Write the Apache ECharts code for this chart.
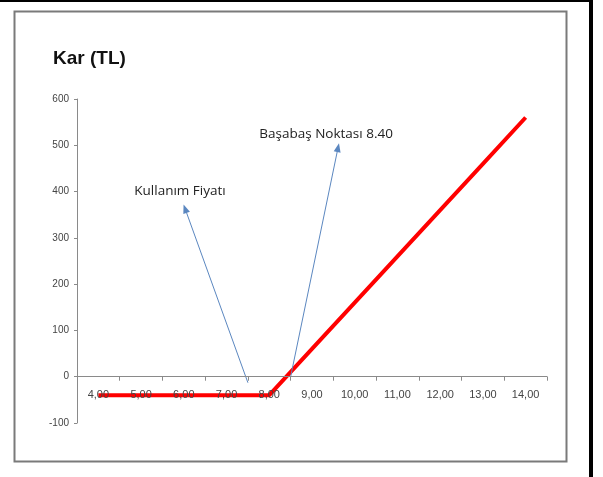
<!DOCTYPE html>
<html>
<head>
<meta charset="utf-8">
<script src="https://cdn.jsdelivr.net/npm/echarts@6/dist/echarts.min.js"></script>
<style>
html,body{margin:0;padding:0;background:#fff;}
#chart{width:603px;height:477px;}
</style>
</head>
<body>
<div id="chart"></div>
<script>
// Data
const priceLabels = ['4,00','5,00','6,00','7,00','8,00','9,00','10,00','11,00','12,00','13,00','14,00'];
const prices = [4,5,6,7,8,9,10,11,12,13,14];
const profit = [-40,-40,-40,-40,-40,60,160,260,360,460,560];
const yTicks = [-100,0,100,200,300,400,500,600];
const titleText = 'Kar (TL)';
// annotation arrows: [x1,y1] -> [x2,y2] in data space (arrowhead at end)
const arrowStrike = [[7.5,-13],[6.03,363]];
const arrowBreakeven = [[8.5,0],[9.61,495]];
const labelStrike = ['Kullanım Fiyatı',5.91,400];
const labelBreakeven = ['Başabaş Noktası 8.40',9.33,523];

const chart = echarts.init(document.getElementById('chart'));
const lineData = prices.map((p,i)=>[p,profit[i]]);
const arrowColor = '#5b87c0';
const axisGray = '#8a8a8a';
const gridTop = 99, gridBottom = 54, chartH = 477;
const plotH = chartH - gridTop - gridBottom;
const yMin = yTicks[0], yMax = yTicks[yTicks.length-1];
// shift category axis up so it sits on value 0
const zeroOffset = -plotH * (0 - yMin) / (yMax - yMin);

chart.setOption({
  animation:false,
  backgroundColor:'#fff',
  title:{text:titleText,left:48,top:44,textStyle:{fontFamily:'Liberation Sans',fontWeight:'bold',fontSize:19,color:'#111'}},
  grid:{left:77,right:56,top:gridTop,bottom:gridBottom,containLabel:false},
  xAxis:[{
    type:'category',data:priceLabels,boundaryGap:true,position:'bottom',offset:zeroOffset,
    axisLine:{onZero:false,lineStyle:{color:axisGray,width:1}},
    axisTick:{show:true,length:4,lineStyle:{color:axisGray}},
    axisLabel:{fontFamily:'Liberation Sans',fontSize:11,color:'#444',margin:13,interval:0},
    splitLine:{show:false},z:5
  },{
    type:'value',min:3.5,max:14.5,show:false
  }],
  yAxis:{
    type:'value',min:yMin,max:yMax,interval:100,
    axisLine:{show:true,onZero:false,lineStyle:{color:axisGray,width:1}},
    axisTick:{show:true,length:3,lineStyle:{color:axisGray}},
    axisLabel:{fontFamily:'Liberation Sans',fontSize:10,color:'#444',margin:8},
    splitLine:{show:false}
  },
  graphic:[
    {type:'rect',shape:{x:14.5,y:11.5,width:552,height:450},style:{fill:'none',stroke:'#7a7a7a',lineWidth:2},z:-1},
    {type:'rect',shape:{x:0,y:0,width:592,height:2},style:{fill:'#000'}},
    {type:'rect',shape:{x:589,y:0,width:4,height:477},style:{fill:'#000'}}
  ],
  series:[{
    type:'line',xAxisIndex:1,data:lineData,symbol:'none',
    lineStyle:{color:'#ff0000',width:4},z:3,
    markLine:{
      silent:true,symbol:['none','triangle'],symbolSize:[7,9],
      lineStyle:{color:arrowColor,width:1,type:'solid'},
      label:{show:false},
      data:[
        [{coord:arrowStrike[0]},{coord:arrowStrike[1]}],
        [{coord:arrowBreakeven[0]},{coord:arrowBreakeven[1]}]
      ]
    },
    markPoint:{
      silent:true,symbol:'circle',symbolSize:0,
      label:{show:true,position:'inside',formatter:'{b}',fontFamily:'Open Sans',fontSize:13.5,color:'#222'},
      data:[
        {name:labelStrike[0],coord:[labelStrike[1],labelStrike[2]]},
        {name:labelBreakeven[0],coord:[labelBreakeven[1],labelBreakeven[2]]}
      ]
    }
  }]
});
</script>
</body>
</html>
